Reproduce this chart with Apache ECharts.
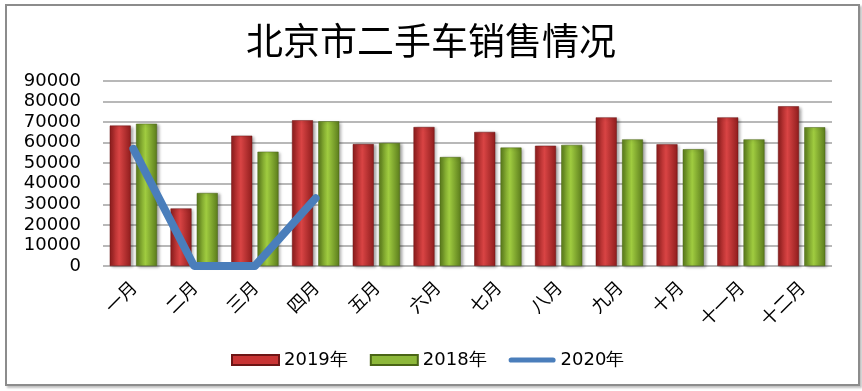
<!DOCTYPE html>
<html>
<head>
<meta charset="utf-8">
<script src="https://cdn.jsdelivr.net/npm/echarts@6/dist/echarts.min.js"></script>
<style>
html,body{margin:0;padding:0;background:#fff;}
#wrap{position:relative;width:862px;height:391px;}
#chart{position:absolute;left:0;top:0;width:862px;height:391px;}
#frame{position:absolute;left:5px;top:4px;width:851px;height:378px;border:2px solid #8c8c8c;pointer-events:none;box-shadow:2px 2px 2px rgba(0,0,0,0.25);}
</style>
</head>
<body>
<div id="wrap"><div id="chart"></div><div id="frame"></div></div>
<script>
const categories = ['一月','二月','三月','四月','五月','六月','七月','八月','九月','十月','十一月','十二月'];
const sales2019 = [68300, 28000, 63400, 70900, 59300, 67600, 65200, 58500, 72300, 59200, 72300, 77700];
const sales2018 = [69200, 35500, 55600, 70400, 59800, 53000, 57600, 58900, 61600, 56800, 61600, 67500];
const sales2020 = [57000, 0, 0, 33000, null, null, null, null, null, null, null, null];
const yTicks = [0, 10000, 20000, 30000, 40000, 50000, 60000, 70000, 80000, 90000];

const chart = echarts.init(document.getElementById('chart'));
function hGrad(dark, light) {
  return new echarts.graphic.LinearGradient(0, 0, 1, 0, [
    {offset: 0, color: dark}, {offset: 0.45, color: light}, {offset: 1, color: dark}
  ]);
}
const redGrad = hGrad('#8f1d1d', '#d94444');
const greenGrad = hGrad('#5b7c1c', '#a0cc40');
chart.setOption({
  animation: false,
  title: {
    text: '北京市二手车销售情况',
    left: 'center',
    top: 17,
    textStyle: {fontSize: 37, fontWeight: 'normal', color: '#000', fontFamily: 'Noto Sans CJK SC'}
  },
  legend: {
    top: 346,
    left: 226,
    itemWidth: 47,
    itemHeight: 10,
    itemGap: 22,
    textStyle: {fontSize: 18, color: '#000', fontFamily: 'DejaVu Sans'},
    data: [
      {name: '2019年', icon: 'rect', itemStyle: {color: '#c83434'}},
      {name: '2018年', icon: 'rect', itemStyle: {color: '#8db83a'}},
      {name: '2020年', icon: 'path://M3,0 H51 A3,3 0 0 1 51,6 H3 A3,3 0 0 1 3,0 Z', itemStyle: {color: '#4a7ebb'}}
    ]
  },
  grid: {left: 103, right: 30, top: 81, bottom: 125},
  xAxis: {
    type: 'category',
    data: categories,
    axisLine: {show: false},
    axisTick: {show: false},
    axisLabel: {rotate: 45, fontSize: 18, color: '#000', margin: 18, fontFamily: 'Noto Sans CJK SC'}
  },
  yAxis: {
    type: 'value',
    min: yTicks[0],
    max: yTicks[yTicks.length - 1],
    interval: 10000,
    axisLine: {show: false},
    axisTick: {show: false},
    axisLabel: {fontSize: 18, color: '#000', margin: 22, fontFamily: 'DejaVu Sans', formatter: function (v) { return String(v); }},
    splitLine: {lineStyle: {color: '#a0a0a0', width: 1.5}}
  },
  series: [
    {
      name: '2019年', type: 'bar', data: sales2019, barWidth: 21, barGap: '25%',
      itemStyle: {color: redGrad, borderColor: '#6e1515', borderWidth: 0.5, shadowBlur: 3, shadowOffsetX: 2, shadowOffsetY: 1, shadowColor: 'rgba(0,0,0,0.35)'}
    },
    {
      name: '2018年', type: 'bar', data: sales2018, barWidth: 21,
      itemStyle: {color: greenGrad, borderColor: '#4a6516', borderWidth: 0.5, shadowBlur: 3, shadowOffsetX: 2, shadowOffsetY: 1, shadowColor: 'rgba(0,0,0,0.35)'}
    },
    {
      name: '2020年', type: 'line', data: sales2020, showSymbol: false, symbol: 'none',
      lineStyle: {color: '#4a7ebb', width: 8, cap: 'round', join: 'round'},
      itemStyle: {color: '#4a7ebb'}
    }
  ]
});
</script>
</body>
</html>
